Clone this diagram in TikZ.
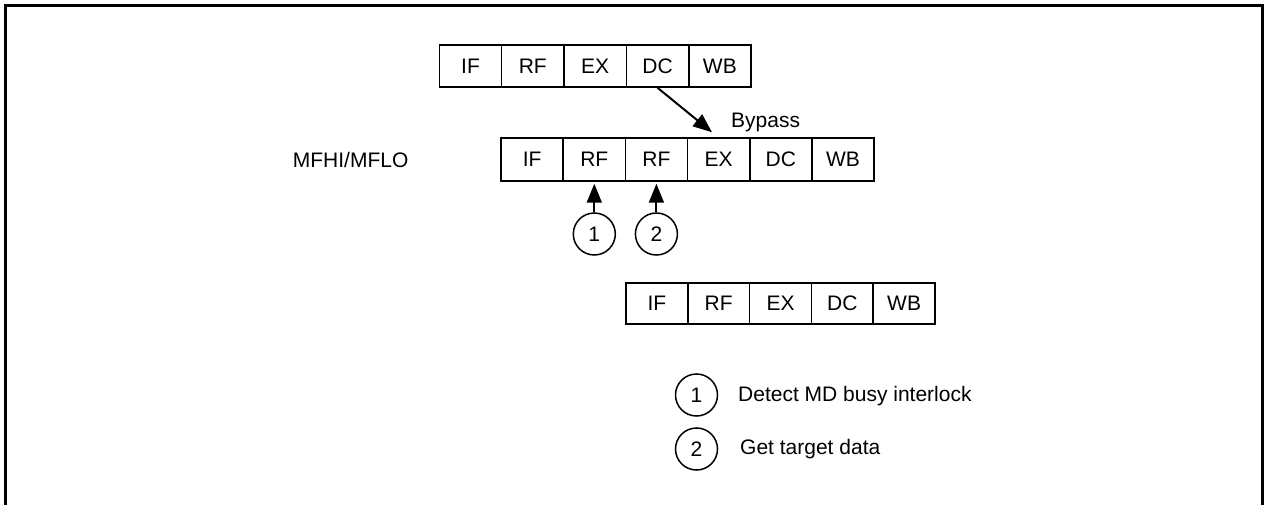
\documentclass[tikz,border=0pt]{standalone}
\usepackage{fontspec}
\setmainfont{Liberation Sans}
\usetikzlibrary{arrows.meta}
\begin{document}
\begin{tikzpicture}[x=1pt,y=-1pt,
  every node/.style={font=\fontsize{21}{24}\selectfont},
  cell/.style={draw,line width=1.5pt,inner sep=0pt,minimum width=62.3pt,minimum height=42pt},
  num/.style={draw,circle,line width=1.5pt,inner sep=0pt,minimum size=42pt},
  lbl/.style={inner sep=0pt,anchor=base west},
  arr/.style={line width=2pt,-{Triangle[length=19pt,width=15pt]}}]
\useasboundingbox (0,0) rectangle (1264,505);
\draw[line width=3pt] (5,505) -- (5,6) -- (1262,6) -- (1262,505);
% top row
\node[cell] (t1) at (470.5,66) {IF};
\node[cell] (t2) at (532.8,66) {RF};
\node[cell] (t3) at (595.2,66) {EX};
\node[cell] (t4) at (657.5,66) {DC};
\node[cell] (t5) at (719.9,66) {WB};
% middle row
\node[cell,minimum height=43pt] (m1) at (532.1,159.5) {IF};
\node[cell,minimum height=43pt] (m2) at (594.3,159.5) {RF};
\node[cell,minimum height=43pt] (m3) at (656.4,159.5) {RF};
\node[cell,minimum height=43pt] (m4) at (718.6,159.5) {EX};
\node[cell,minimum height=43pt] (m5) at (780.8,159.5) {DC};
\node[cell,minimum height=43pt] (m6) at (843,159.5) {WB};
% bottom row
\node[cell,minimum width=61.8pt,minimum height=41pt] (b1) at (656.9,303.5) {IF};
\node[cell,minimum width=61.8pt,minimum height=41pt] (b2) at (718.7,303.5) {RF};
\node[cell,minimum width=61.8pt,minimum height=41pt] (b3) at (780.5,303.5) {EX};
\node[cell,minimum width=61.8pt,minimum height=41pt] (b4) at (842.3,303.5) {DC};
\node[cell,minimum width=61.8pt,minimum height=41pt] (b5) at (904.1,303.5) {WB};
% labels
\node[lbl] (mf) at (292.7,167.3) {MFHI/MFLO};
\node[lbl] (bp) at (731,127.3) {Bypass};
% bypass arrow
\coordinate (bt) at ([xshift=-6.6pt,yshift=5pt]m4.north);
\draw[arr] (t4.south) -- (bt);
% circles
\node[num] (c1) at (594.3,234) {1};
\node[num] (c2) at (656.4,234) {2};
\draw[arr,shorten >=2pt] (c1.north) -- (m2.south);
\draw[arr,shorten >=2pt] (c2.north) -- (m3.south);
% legend
\node[num] (l1) at (696.5,395) {1};
\node[num] (l2) at (696.5,449) {2};
\node[lbl] (lt1) at (738,401.7) {Detect MD busy interlock};
\node[lbl] (lt2) at (740,454) {Get target data};
\end{tikzpicture}
\end{document}
